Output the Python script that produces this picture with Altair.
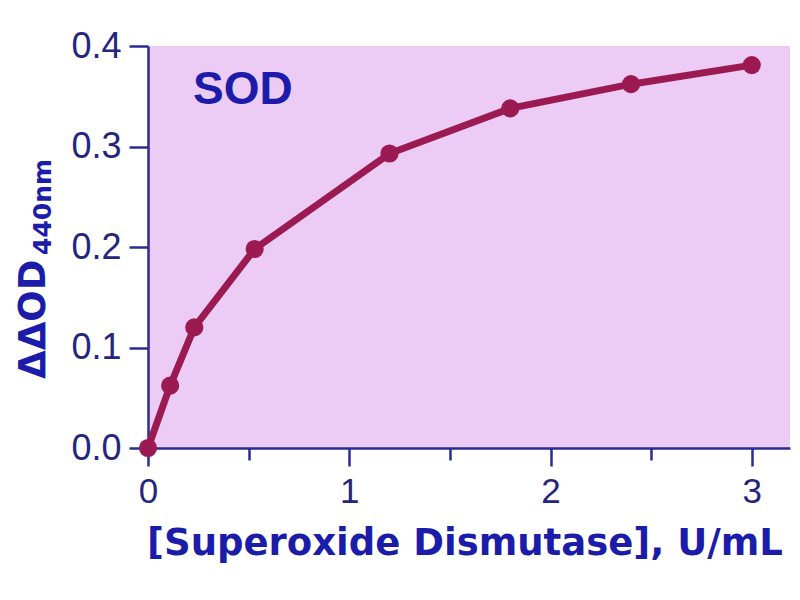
import altair as alt
import pandas as pd

# Data
conc = [0, 0.11, 0.23, 0.53, 1.2, 1.8, 2.4, 3.0]
od = [0, 0.062, 0.120, 0.198, 0.293, 0.338, 0.362, 0.381]
x_ticks = [0, 0.5, 1, 1.5, 2, 2.5, 3]
y_ticks = [0, 0.1, 0.2, 0.3, 0.4]
x_title = ["[Superoxide Dismutase], U/mL"]
y_title_main = ["ΔΔOD"]
y_title_sub = ["440nm"]
label_sod = ["SOD"]

LINE = "#9b1a52"
AXIS = "#2b2b96"
LABEL = "#25257f"
TITLE = "#1c1caa"
BG = "#eccbf4"

W, H = 642, 402

df = pd.DataFrame({"conc": conc, "od": od})

xs = alt.Scale(domain=[0, 3.19], nice=False, zero=False)
ys = alt.Scale(domain=[0, 0.4], nice=False)

x_axis = alt.Axis(
    values=x_ticks,
    title=None,
    grid=False,
    labelExpr="datum.value % 1 === 0 ? format(datum.value, 'd') : ''",
    labelOverlap=False,
    labelFlush=False,
    labelFont="Liberation Sans",
    labelFontSize=35,
    labelColor=LABEL,
    labelPadding=8,
    tickSize=alt.condition("datum.value % 1 === 0", alt.value(18), alt.value(12)),
    tickColor=AXIS,
    tickWidth=2.5,
    domainColor=AXIS,
    domainWidth=2.5,
)
y_axis = alt.Axis(
    values=y_ticks,
    format=".1f",
    title=None,
    grid=False,
    labelFlush=False,
    labelFont="Liberation Sans",
    labelFontSize=36,
    labelColor=LABEL,
    labelPadding=8,
    tickSize=19,
    tickColor=AXIS,
    tickWidth=2.5,
    domainColor=AXIS,
    domainWidth=2.5,
)

base = alt.Chart(df)
line = base.mark_line(color=LINE, strokeWidth=7).encode(
    x=alt.X("conc:Q", scale=xs, axis=x_axis),
    y=alt.Y("od:Q", scale=ys, axis=y_axis),
)
pts = base.mark_point(filled=True, size=330, opacity=1, color=LINE).encode(
    x=alt.X("conc:Q", scale=xs),
    y=alt.Y("od:Q", scale=ys),
)

def label(txt, **kw):
    return alt.Chart(pd.DataFrame({"t": txt})).mark_text(**kw)

sod = label(label_sod, font="Liberation Sans", fontWeight="bold", fontSize=46,
            color=TITLE, align="left", baseline="alphabetic").encode(
    text="t:N", x=alt.value(45), y=alt.value(58))

xt = label(x_title, font="DejaVu Sans", fontWeight="bold", fontSize=37,
           color=TITLE, align="center", baseline="alphabetic").encode(
    text="t:N", x=alt.value(317), y=alt.value(509))

yt = label(y_title_main, font="DejaVu Sans", fontWeight="bold", fontSize=37,
           color=TITLE, align="left", baseline="alphabetic", angle=270).encode(
    text="t:N", x=alt.value(-103), y=alt.value(333))

ysub = label(y_title_sub, font="DejaVu Sans", fontWeight="bold", fontSize=25,
             color=TITLE, align="left", baseline="alphabetic", angle=270).encode(
    text="t:N", x=alt.value(-97), y=alt.value(209))

chart = alt.layer(line, pts, sod, xt, yt, ysub).properties(
    width=W, height=H,
    autosize=alt.AutoSizeParams(type="none"),
    padding={"left": 140, "top": 38, "right": 2, "bottom": 144},
    background="white",
).configure_view(stroke=None, fill=BG)

chart.save("out.html", embed_options={"renderer": "svg", "actions": False})
